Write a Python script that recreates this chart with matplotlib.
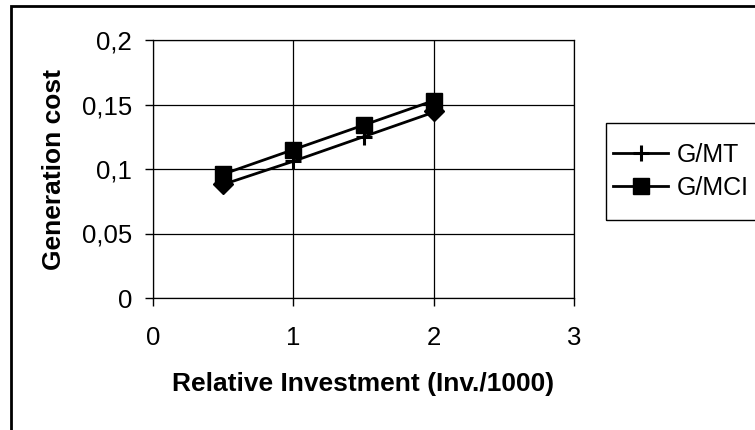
# generation_cost.py — generation cost vs relative investment (Excel-style line chart)

import matplotlib
import matplotlib.pyplot as plt
from matplotlib.patches import Rectangle

matplotlib.use("Agg")

plt.rcParams["font.family"] = ["Liberation Sans", "DejaVu Sans"]

# ── 1. Data ───────────────────────────────────────────────────────────────────

investment = [0.5, 1.0, 1.5, 2.0]
cost_mt = [0.088, 0.106, 0.125, 0.144]     # G/MT (plus markers)
cost_mci = [0.096, 0.115, 0.134, 0.153]    # G/MCI (square markers)

# unnamed diamond series, only the two end points
investment_end = [0.5, 2.0]
cost_end = [0.088, 0.145]

x_ticks = [0, 1, 2, 3]
y_ticks = [0, 0.05, 0.1, 0.15, 0.2]
y_tick_labels = ["0", "0,05", "0,1", "0,15", "0,2"]

# ── 2. Figure and axes placement (pixel layout of 755x430) ────────────────────

W, H = 755, 430
fig = plt.figure(figsize=(W / 100, H / 100), dpi=100)
ax = fig.add_axes([153 / W, 1 - 298 / H, (574 - 153) / W, (298 - 40) / H])

# outer chart border (right and bottom run off the picture)
fig.patches.append(
    Rectangle((11 / W, -0.05), 1.1, 1 - 6 / H + 0.05, transform=fig.transFigure,
              fill=False, edgecolor="black", linewidth=2)
)

# ── 3. Series ─────────────────────────────────────────────────────────────────

ax.plot(investment_end, cost_end, color="black", linestyle="none",
        marker="D", markersize=10, zorder=3)
ax.plot(investment, cost_mt, color="black", lw=2,
        marker="+", markersize=12, markeredgewidth=2.2, label="G/MT", zorder=4)
ax.plot(investment, cost_mci, color="black", lw=2,
        marker="s", markersize=11, label="G/MCI", zorder=5)

# ── 4. Axes styling ───────────────────────────────────────────────────────────

ax.set_xlim(0, 3)
ax.set_ylim(0, 0.2)
ax.set_xticks(x_ticks)
ax.set_yticks(y_ticks)
ax.set_yticklabels(y_tick_labels)
ax.tick_params(direction="out", length=6, width=1, labelsize=18.5)
ax.tick_params(axis="y", pad=9)
ax.tick_params(axis="x", pad=14)

ax.grid(True, color="black", lw=0.9)
ax.set_axisbelow(True)
for side in ax.spines.values():
    side.set_linewidth(0.9)

ax.set_xlabel("Relative Investment (Inv./1000)", fontsize=19, fontweight="bold")
ax.set_ylabel("Generation cost", fontsize=19, fontweight="bold")
ax.xaxis.set_label_coords(0.5, -(372 - 298) / 258)
ax.yaxis.set_label_coords((66 - 153) / 421, 0.5)

# ── 5. Legend (frame drawn separately, it runs off the right edge) ────────────

leg = ax.legend(loc="upper left", bbox_to_anchor=(613 / W, 1 - 143 / H),
                bbox_transform=fig.transFigure, fontsize=18, frameon=False,
                borderpad=0, borderaxespad=0, handlelength=2.2,
                handletextpad=0.36, labelspacing=0.36)
fig.patches.append(
    Rectangle((606 / W, 1 - 220 / H), 0.4, (220 - 123) / H,
              transform=fig.transFigure, fill=False, edgecolor="black", linewidth=1)
)

plt.savefig("out.png", dpi=100)
